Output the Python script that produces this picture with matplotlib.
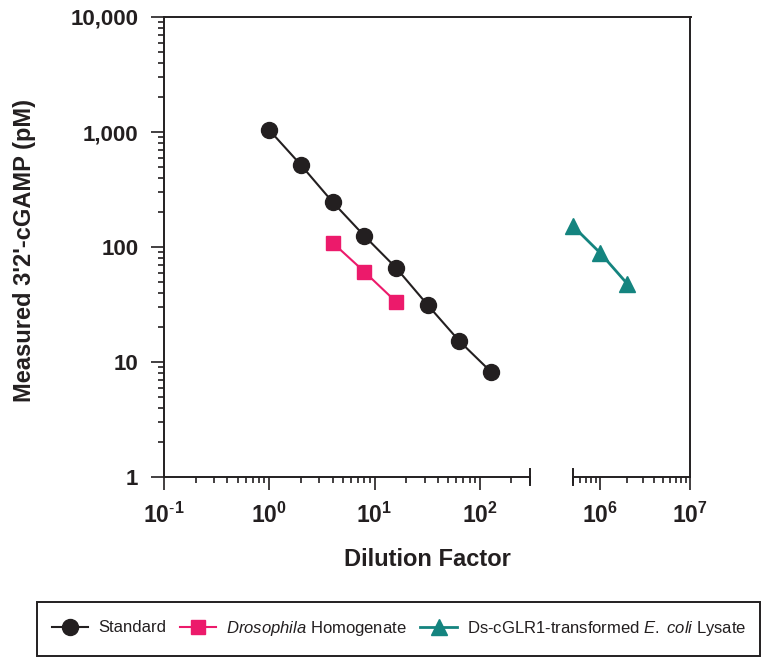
import matplotlib
matplotlib.use("Agg")
import matplotlib.pyplot as plt
from matplotlib.lines import Line2D
from matplotlib.patches import Rectangle
from matplotlib.ticker import FixedLocator, NullFormatter

plt.rcParams['font.family'] = ['Liberation Sans', 'DejaVu Sans']
plt.rcParams['mathtext.fontset'] = 'custom'
plt.rcParams['mathtext.rm'] = 'Liberation Sans'
plt.rcParams['mathtext.it'] = 'Liberation Sans:italic'
plt.rcParams['mathtext.bf'] = 'Liberation Sans:bold'

# ---- data ----
std_dilution = [1, 2, 4, 8, 16, 32, 64, 128]
std_measured = [1040, 516, 246, 125, 66, 31.3, 15.2, 8.2]

dros_dilution = [4, 8, 16]
dros_measured = [109, 61, 33.4]

ecoli_dilution = [5e5, 1e6, 2e6]
ecoli_measured = [152, 89, 48]

y_ticks = [1, 10, 100, 1000, 10000]
y_ticklabels = ['1', '10', '100', '1,000', '10,000']
x1_ticks = [0.1, 1, 10, 100]
x1_ticklabels = [r'$\mathbf{10^{\text{-}1}}$', r'$\mathbf{10^{0}}$', r'$\mathbf{10^{1}}$', r'$\mathbf{10^{2}}$']
x2_ticks = [1e6, 1e7]
x2_ticklabels = [r'$\mathbf{10^{6}}$', r'$\mathbf{10^{7}}$']

labels = ['Standard', r'$\it{Drosophila}$ Homogenate', r'Ds-cGLR1-transformed $\it{E.\ coli}$ Lysate']

BLACK = '#231F20'
PINK = '#EC1A6B'
TEAL = '#14847F'

W, H = 762, 657
fig = plt.figure(figsize=(W / 100, H / 100), dpi=100)

def fx(px):
    return px / W

def fy(py):
    return 1 - py / H

ax1 = fig.add_axes([fx(164), fy(477), fx(530) - fx(164), fy(17) - fy(477)])
ax2 = fig.add_axes([fx(573), fy(477), fx(690) - fx(573), fy(17) - fy(477)], sharey=ax1)

for ax in (ax1, ax2):
    ax.set_xscale('log')
    ax.set_yscale('log')
    for s in ax.spines.values():
        s.set_linewidth(1.4)
        s.set_color(BLACK)
    ax.spines['top'].set_visible(False)
    ax.tick_params(which='major', length=9.5, width=1.2, color=BLACK,
                   labelsize=16, labelcolor=BLACK, pad=9)
    ax.tick_params(which='minor', length=4.5, width=1.2, color=BLACK)

ax1.set_ylim(1, 10000)
ax1.set_xlim(0.1, 300)
ax2.set_xlim(5e5, 1e7)

ax1.spines['right'].set_visible(False)
ax2.spines['left'].set_visible(False)

ax1.yaxis.set_major_locator(FixedLocator(y_ticks))
ax1.set_yticklabels(y_ticklabels, fontweight='bold')
yminor = [m * 10 ** e for e in range(0, 4) for m in range(2, 10)]
ax1.yaxis.set_minor_locator(FixedLocator(yminor))
ax1.yaxis.set_minor_formatter(NullFormatter())

ax1.xaxis.set_major_locator(FixedLocator(x1_ticks))
ax1.set_xticklabels(x1_ticklabels)
x1minor = [m * 10 ** e for e in range(-1, 3) for m in range(2, 10) if m * 10 ** e <= 300]
ax1.xaxis.set_minor_locator(FixedLocator(x1minor))
ax1.xaxis.set_minor_formatter(NullFormatter())
ax1.tick_params(axis='x', labelsize=16.5, pad=9)

ax2.xaxis.set_major_locator(FixedLocator(x2_ticks))
ax2.set_xticklabels(x2_ticklabels)
x2minor = [m * 10 ** e for e in range(5, 7) for m in range(2, 10) if 5e5 <= m * 10 ** e <= 1e7]
ax2.xaxis.set_minor_locator(FixedLocator(x2minor))
ax2.xaxis.set_minor_formatter(NullFormatter())
ax2.tick_params(axis='x', labelsize=16.5, pad=9)
ax2.tick_params(axis='y', which='both', left=False, labelleft=False, right=False)

# data
ax1.plot(std_dilution, std_measured, color=BLACK, lw=1.5, marker='o', ms=11.5,
         mfc=BLACK, mec=BLACK, clip_on=False, zorder=3)
ax1.plot(dros_dilution, dros_measured, color=PINK, lw=1.5, marker='s', ms=10.5,
         mfc=PINK, mec=PINK, clip_on=False, zorder=3)
ax2.plot(ecoli_dilution, ecoli_measured, color=TEAL, lw=2, marker='^', ms=11.5,
         mfc=TEAL, mec=TEAL, clip_on=False, zorder=3)

# break marks
ax1.add_line(Line2D([1, 1], [-0.018, 0.018], transform=ax1.transAxes, color=BLACK,
                    lw=1.4, clip_on=False))
ax2.add_line(Line2D([0, 0], [-0.018, 0.018], transform=ax2.transAxes, color=BLACK,
                    lw=1.4, clip_on=False))

# continuous top line
fig.add_artist(Line2D([fx(164), fx(690.7)], [fy(17), fy(17)], color=BLACK, lw=1.4))

# labels
fig.text(fx(427), fy(560), 'Dilution Factor', ha='center', va='center',
         fontsize=17, fontweight='bold', color=BLACK)
fig.text(fx(25), fy(250), "Measured 3'2'-cGAMP (pM)", ha='center', va='center',
         rotation=90, fontsize=17, fontweight='bold', color=BLACK)

# legend
fig.add_artist(Rectangle((fx(37), fy(656)), fx(760) - fx(37), fy(602) - fy(656),
                         fill=False, edgecolor=BLACK, lw=1.4))
handles = [
    Line2D([], [], color=BLACK, lw=1.5, marker='o', ms=11.5, mfc=BLACK, mec=BLACK),
    Line2D([], [], color=PINK, lw=1.5, marker='s', ms=10.5, mfc=PINK, mec=PINK),
    Line2D([], [], color=TEAL, lw=2, marker='^', ms=11.5, mfc=TEAL, mec=TEAL),
]
fig.legend(handles, labels, loc='center', bbox_to_anchor=(fx(399), fy(628)),
           ncol=3, frameon=False, fontsize=12, handlelength=2.2,
           handletextpad=0.6, columnspacing=0.8, labelcolor=BLACK)

fig.savefig('out.png', dpi=100)
